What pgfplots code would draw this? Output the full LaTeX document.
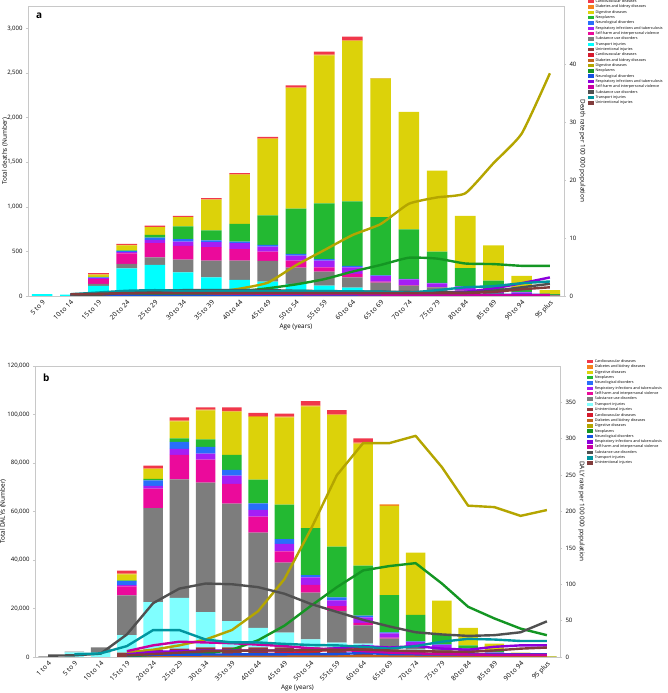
\documentclass[border=0pt]{standalone}
\usepackage{fontspec}
\setmainfont{Open Sans}
\usepackage{pgfplots}
\usepackage{pgfplotstable}
\pgfplotsset{compat=1.18}

% bar colours
\definecolor{carB}{RGB}{240,55,75}
\definecolor{diaB}{RGB}{245,130,30}
\definecolor{digB}{RGB}{220,210,10}
\definecolor{neoB}{RGB}{35,185,50}
\definecolor{neuB}{RGB}{40,110,250}
\definecolor{resB}{RGB}{165,30,245}
\definecolor{selB}{RGB}{235,10,155}
\definecolor{subB}{RGB}{125,125,125}
\definecolor{traB}{RGB}{0,255,255}
\definecolor{traBb}{RGB}{128,255,255}
\definecolor{uniB}{RGB}{140,60,60}
% line colours
\definecolor{carL}{RGB}{215,25,45}
\definecolor{diaL}{RGB}{195,100,30}
\definecolor{digL}{RGB}{180,165,0}
\definecolor{neoL}{RGB}{20,150,35}
\definecolor{neuL}{RGB}{20,80,225}
\definecolor{resL}{RGB}{140,0,220}
\definecolor{selL}{RGB}{200,0,160}
\definecolor{subL}{RGB}{80,80,80}
\definecolor{traL}{RGB}{0,150,160}
\definecolor{uniL}{RGB}{130,60,60}
\definecolor{frame}{RGB}{200,200,200}

% panel a: deaths by cause
\pgfplotstableread{
x uni tra sub sel res neu neo dig dia car
0 0 22 0 0 0 0 0 0 0 0
1 0 15 0 0 0 0 0 0 0 0
2 5 108 22 53 11 10 5 25 3 14
3 10 300 51 117 15 11 8 56 4 11
4 15 333 86 158 37 26 30 86 5 14
5 15 251 142 154 48 27 142 105 3 12
6 15 195 187 150 56 19 112 345 5 13
7 15 165 217 127 68 18 199 551 5 13
8 15 146 232 105 56 19 330 857 6 17
9 15 120 183 79 56 19 506 1352 7 23
10 15 101 157 49 75 15 625 1660 8 33
11 15 79 116 37 75 15 723 1798 8 40
12 15 20 115 11 64 6 653 1554 0 3
13 15 10 91 5 66 5 555 1317 0 0
14 12 10 75 3 42 5 351 906 0 0
15 10 10 40 2 45 5 199 588 0 0
16 8 5 20 1 25 5 108 394 0 0
17 8 3 10 0 20 4 50 130 0 0
18 5 0 4 0 3 0 10 45 0 0
}\deathbars

% panel a: death rate per 100 000
\pgfplotstableread{
x car dia dig neo neu res sel sub tra uni
1 0.1 0.02 0.02 0.05 0.05 0.1 0.05 0.05 0.3 0.3
2 0.3 0.03 0.05 0.1 0.05 0.3 0.3 0.2 0.6 0.4
3 0.4 0.04 0.1 0.15 0.05 0.5 0.5 0.6 0.9 0.5
4 0.4 0.05 0.2 0.2 0.05 0.6 0.6 0.9 1.0 0.5
5 0.4 0.05 0.35 0.3 0.05 0.6 0.55 1.0 0.9 0.5
6 0.4 0.05 0.63 0.45 0.05 0.6 0.5 1.0 0.9 0.5
7 0.4 0.05 1.26 0.8 0.05 0.6 0.45 1.0 0.9 0.5
8 0.4 0.05 2.3 1.33 0.1 0.6 0.4 1.0 0.85 0.5
9 0.4 0.05 5.3 2.0 0.1 0.6 0.35 0.9 0.85 0.5
10 0.4 0.05 7.9 2.9 0.1 0.6 0.3 0.85 0.8 0.5
11 0.35 0.05 10.5 4.2 0.1 0.6 0.3 0.8 0.8 0.5
12 0.1 0.05 12.4 5.35 0.15 0.6 0.25 0.75 0.75 0.5
13 0.05 0.05 15.9 6.6 0.15 0.6 0.2 0.7 0.6 0.5
14 0.05 0.05 17.0 6.45 0.15 0.63 0.15 0.65 1.0 0.5
15 0.05 0.05 17.7 5.6 0.2 0.75 0.1 0.6 1.5 0.5
16 0.05 0.1 22.9 5.5 0.2 1.3 0.1 0.9 1.7 0.7
17 0.05 0.1 28.0 5.2 0.2 2.2 0.1 1.5 2.2 1.15
18 0.05 0.1 38.4 5.2 0.2 3.2 0.1 2.1 2.5 1.5
}\deathrates

% panel b: DALYs by cause
\pgfplotstableread{
x uni tra sub sel res neu neo dig dia car
0 0 0 300 0 0 0 0 0 0 0
1 0 1900 300 0 0 0 0 0 0 0
2 0 1800 2200 0 0 0 0 0 0 0
3 1800 7200 16400 3700 500 1700 300 2500 300 1200
4 3000 19600 38800 8000 1200 2200 700 4000 300 1100
5 3500 20900 48800 10200 2400 2900 1500 7000 300 1300
6 4000 14500 53400 9500 2500 2700 3100 12000 300 900
7 4000 10800 48400 8200 3400 2400 6100 17900 300 1400
8 4000 8000 39300 6600 2800 2700 9700 25900 300 1400
9 4000 6100 28800 4700 3000 2000 14200 36000 300 1300
10 4000 3300 19200 3200 3100 1000 19300 50300 300 1800
11 4000 1900 13000 2100 2400 1200 20900 54200 300 1800
12 4000 1500 7500 1100 2200 800 20600 50300 400 1800
13 3000 800 3800 400 1700 500 15300 36800 600 0
14 2500 500 1400 200 1600 200 11000 25600 0 0
15 2000 500 1000 100 1400 200 4200 13800 0 0
16 1500 300 500 0 1000 200 1300 7200 0 0
17 800 200 300 0 500 100 800 2800 0 0
18 300 0 0 0 200 0 200 1100 0 0
19 50 0 0 0 0 0 50 200 0 0
}\dalybars

% panel b: DALY rate per 100 000
\pgfplotstableread{
x car dia dig neo neu res sel sub tra uni
0 nan nan nan nan nan nan nan 1.8 nan nan
1 nan nan nan nan nan nan nan 2.3 3.7 nan
2 nan nan nan nan nan nan nan 4.6 5 nan
3 1.4 0.5 6.4 1 2.3 3.7 8 31 15 2.3
4 1.6 0.6 10 2.8 3 7 16 74 37 4
5 2 0.7 16 3.7 3.2 8 21 94 37 6
6 2.5 0.8 24 4.6 3.4 9 20 101 24 8
7 3 0.9 37 10 3.5 9 19 100 20 8.5
8 3.7 1 63 23 3.6 9 17 96 20 9
9 5 1.1 107 43 3.7 9 15 87 18 9
10 8 1.2 175 70 3.8 10 12 73 16.5 9.5
11 10 1.3 250 96 4 12 10 62 16 10
12 15 1.4 294 119 5.5 15 8 51 14 10
13 1 1.4 294 125 4 13 6 42 11.5 9
14 0.5 1.4 304 129 3.7 15 5 34 15 8
15 0.5 1.4 261 101 3.7 11.5 4 31 21 7.5
16 0.5 1.4 208 69 3.7 10 3.5 29 25 7
17 0.5 1.4 206 53 3.7 14 3 30 24 9
18 0.5 1.4 194 39 3.7 16 3 34 22 11.5
19 0.5 1.4 202 30 3.7 16 3 49 22 13
}\dalyrates

\pgfplotsset{
  sw/.style={legend image code/.code={\fill[#1, draw=none] (0pt,-1.8pt) rectangle (6pt,1.8pt);}},
  base/.style={
    scale only axis, anchor=south west, xmin=-0.5,
    tick label style={font=\fontsize{6}{7}\selectfont},
    xticklabel style={font=\fontsize{6.6}{7.6}\selectfont},
    label style={font=\fontsize{6.4}{7.4}\selectfont},
    /pgf/number format/assume math mode=true,
    /pgf/number format/fixed,
    /pgf/number format/1000 sep={,},
    scaled y ticks=false,
    axis line style={frame, line width=0.6pt},
    tick style={frame, line width=0.5pt},
    tick align=outside, major tick length=2pt,
    every axis plot post/.append style={sw},
    legend cell align=left,
    legend style={draw=none, fill=none, inner sep=0pt, outer sep=0pt,
      font=\fontsize{3.7}{4}\selectfont, row sep=0pt, column sep=1.5pt,
      nodes={inner sep=0pt, text height=3.6pt, text depth=1.73pt}},
  },
  bars/.style={
    base, ybar stacked, ymin=0, reverse legend,
    ytick pos=left, xtick pos=bottom,
    xticklabel style={rotate=45, anchor=north east, inner sep=1pt},
    major x tick style={draw=none},
  },
  rates/.style={
    base, ymin=0, axis y line*=right, axis x line=none,
    ylabel style={rotate=180, anchor=center},
  },
  rl/.style={line width=2.4pt, no markers, line join=round},
}

\begin{document}
\begin{tikzpicture}[x=1pt,y=1pt]
\useasboundingbox (0,0) rectangle (668,693);

% ---------- panel a ----------
\begin{axis}[bars, at={(28pt,397pt)}, width=536pt, height=290pt,
  xmax=18.5, ymax=3250, bar width=0.73,
  xtick={0,...,18},
  xticklabels={5 to 9,10 to 14,15 to 19,20 to 24,25 to 29,30 to 34,35 to 39,40 to 44,45 to 49,50 to 54,55 to 59,60 to 64,65 to 69,70 to 74,75 to 79,80 to 84,85 to 89,90 to 94,95 plus},
  ytick={0,500,...,3000},
  xlabel={Age (years)}, ylabel={Total deaths (Number)},
  xlabel style={at={(axis description cs:0.5,-0.107)}, anchor=center},
  ylabel style={at={(axis description cs:-0.043,0.5)}, anchor=center},
  legend style={at={(axis description cs:1.0448,1.024)}, anchor=north west},
]
\addplot[fill=uniB, draw=none] table[x=x, y=uni]{\deathbars};
\addlegendentry{Unintentional injuries}
\addplot[fill=traB, draw=none] table[x=x, y=tra]{\deathbars};
\addlegendentry{Transport injuries}
\addplot[fill=subB, draw=none] table[x=x, y=sub]{\deathbars};
\addlegendentry{Substance use disorders}
\addplot[fill=selB, draw=none] table[x=x, y=sel]{\deathbars};
\addlegendentry{Self-harm and interpersonal violence}
\addplot[fill=resB, draw=none] table[x=x, y=res]{\deathbars};
\addlegendentry{Respiratory infections and tuberculosis}
\addplot[fill=neuB, draw=none] table[x=x, y=neu]{\deathbars};
\addlegendentry{Neurological disorders}
\addplot[fill=neoB, draw=none] table[x=x, y=neo]{\deathbars};
\addlegendentry{Neoplasms}
\addplot[fill=digB, draw=none] table[x=x, y=dig]{\deathbars};
\addlegendentry{Digestive diseases}
\addplot[fill=diaB, draw=none] table[x=x, y=dia]{\deathbars};
\addlegendentry{Diabetes and kidney diseases}
\addplot[fill=carB, draw=none] table[x=x, y=car]{\deathbars};
\addlegendentry{Cardiovascular diseases}
\node[anchor=north west, inner sep=0pt, font=\fontsize{10}{10}\selectfont\bfseries] at (rel axis cs:0.015,0.976) {a};
\end{axis}

\begin{axis}[rates, at={(28pt,397pt)}, width=536pt, height=290pt,
  xmax=18.5, ymax=50, ytick={0,10,...,40},
  ylabel={Death rate per 100 000 population},
  ylabel style={at={(axis description cs:1.034,0.5)}},
  legend style={at={(axis description cs:1.0448,0.8403)}, anchor=north west},
]
\addplot[rl, smooth, tension=0.3, color=carL] table[x=x, y=car]{\deathrates};
\addlegendentry{Cardiovascular diseases}
\addplot[rl, smooth, tension=0.3, color=diaL] table[x=x, y=dia]{\deathrates};
\addlegendentry{Diabetes and kidney diseases}
\addplot[rl, smooth, tension=0.3, color=digL] table[x=x, y=dig]{\deathrates};
\addlegendentry{Digestive diseases}
\addplot[rl, smooth, tension=0.3, color=neoL] table[x=x, y=neo]{\deathrates};
\addlegendentry{Neoplasms}
\addplot[rl, smooth, tension=0.3, color=neuL] table[x=x, y=neu]{\deathrates};
\addlegendentry{Neurological disorders}
\addplot[rl, smooth, tension=0.3, color=resL] table[x=x, y=res]{\deathrates};
\addlegendentry{Respiratory infections and tuberculosis}
\addplot[rl, smooth, tension=0.3, color=selL] table[x=x, y=sel]{\deathrates};
\addlegendentry{Self-harm and interpersonal violence}
\addplot[rl, smooth, tension=0.3, color=subL] table[x=x, y=sub]{\deathrates};
\addlegendentry{Substance use disorders}
\addplot[rl, smooth, tension=0.3, color=traL] table[x=x, y=tra]{\deathrates};
\addlegendentry{Transport injuries}
\addplot[rl, smooth, tension=0.3, color=uniL] table[x=x, y=uni]{\deathrates};
\addlegendentry{Unintentional injuries}
\end{axis}

% ---------- panel b ----------
\begin{axis}[bars, at={(35pt,36pt)}, width=525pt, height=291pt,
  xmax=19.5, ymax=120000, bar width=0.75,
  xtick={0,...,19},
  xticklabels={1 to 4,5 to 9,10 to 14,15 to 19,20 to 24,25 to 29,30 to 34,35 to 39,40 to 44,45 to 49,50 to 54,55 to 59,60 to 64,65 to 69,70 to 74,75 to 79,80 to 84,85 to 89,90 to 94,95 plus},
  ytick={0,20000,...,120000},
  xlabel={Age (years)}, ylabel={Total DALYs (Number)},
  xlabel style={at={(axis description cs:0.5,-0.107)}, anchor=center},
  ylabel style={at={(axis description cs:-0.061,0.5)}, anchor=center},
  legend style={at={(axis description cs:1.052,1.024)}, anchor=north west},
]
\addplot[fill=uniB, draw=none] table[x=x, y=uni]{\dalybars};
\addlegendentry{Unintentional injuries}
\addplot[fill=traBb, draw=none] table[x=x, y=tra]{\dalybars};
\addlegendentry{Transport injuries}
\addplot[fill=subB, draw=none] table[x=x, y=sub]{\dalybars};
\addlegendentry{Substance use disorders}
\addplot[fill=selB, draw=none] table[x=x, y=sel]{\dalybars};
\addlegendentry{Self-harm and interpersonal violence}
\addplot[fill=resB, draw=none] table[x=x, y=res]{\dalybars};
\addlegendentry{Respiratory infections and tuberculosis}
\addplot[fill=neuB, draw=none] table[x=x, y=neu]{\dalybars};
\addlegendentry{Neurological disorders}
\addplot[fill=neoB, draw=none] table[x=x, y=neo]{\dalybars};
\addlegendentry{Neoplasms}
\addplot[fill=digB, draw=none] table[x=x, y=dig]{\dalybars};
\addlegendentry{Digestive diseases}
\addplot[fill=diaB, draw=none] table[x=x, y=dia]{\dalybars};
\addlegendentry{Diabetes and kidney diseases}
\addplot[fill=carB, draw=none] table[x=x, y=car]{\dalybars};
\addlegendentry{Cardiovascular diseases}
\node[anchor=north west, inner sep=0pt, font=\fontsize{10}{10}\selectfont\bfseries] at (rel axis cs:0.015,0.9725) {b};
\end{axis}

\begin{axis}[rates, at={(35pt,36pt)}, width=525pt, height=291pt,
  xmax=19.5, ymax=400, ytick={0,50,...,350},
  ylabel={DALY rate per 100 000 population},
  ylabel style={at={(axis description cs:1.041,0.5)}},
  legend style={at={(axis description cs:1.052,0.8405)}, anchor=north west},
]
\addplot[rl, color=carL] table[x=x, y=car]{\dalyrates};
\addlegendentry{Cardiovascular diseases}
\addplot[rl, color=diaL] table[x=x, y=dia]{\dalyrates};
\addlegendentry{Diabetes and kidney diseases}
\addplot[rl, color=digL] table[x=x, y=dig]{\dalyrates};
\addlegendentry{Digestive diseases}
\addplot[rl, color=neoL] table[x=x, y=neo]{\dalyrates};
\addlegendentry{Neoplasms}
\addplot[rl, color=neuL] table[x=x, y=neu]{\dalyrates};
\addlegendentry{Neurological disorders}
\addplot[rl, color=resL] table[x=x, y=res]{\dalyrates};
\addlegendentry{Respiratory infections and tuberculosis}
\addplot[rl, color=selL] table[x=x, y=sel]{\dalyrates};
\addlegendentry{Self-harm and interpersonal violence}
\addplot[rl, color=subL] table[x=x, y=sub]{\dalyrates};
\addlegendentry{Substance use disorders}
\addplot[rl, color=traL] table[x=x, y=tra]{\dalyrates};
\addlegendentry{Transport injuries}
\addplot[rl, color=uniL] table[x=x, y=uni]{\dalyrates};
\addlegendentry{Unintentional injuries}
\end{axis}
\end{tikzpicture}
\end{document}
